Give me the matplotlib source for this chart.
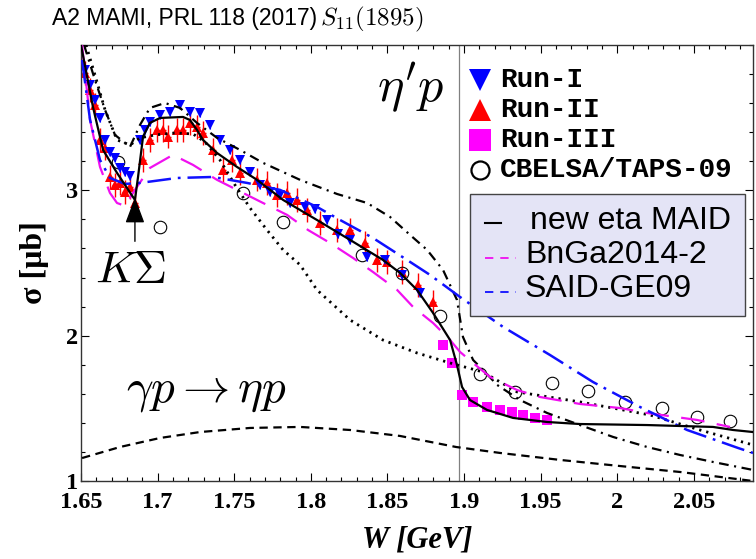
import matplotlib
matplotlib.use('Agg')
import matplotlib.pyplot as plt
from matplotlib.patches import Rectangle
from matplotlib.lines import Line2D
from matplotlib.ticker import MultipleLocator, FixedLocator, FuncFormatter

# ---------------- data (W in GeV, sigma in microbarn) ----------------
# new eta MAID (solid black)
maid_W = [1.650, 1.6578, 1.6644, 1.6735, 1.6852, 1.6872, 1.6905, 1.695, 1.7016, 1.7166,
          1.7211, 1.7257, 1.7296, 1.7388, 1.7518, 1.7649, 1.7819, 1.8040, 1.8256, 1.8471,
          1.8582, 1.8693, 1.8798, 1.8909, 1.8954, 1.8987, 1.9039, 1.9150, 1.9320, 1.9542,
          1.9757, 2.0195, 2.0625, 2.0756, 2.0886]
maid_S = [4.00, 3.574, 3.278, 3.12, 2.934, 3.09, 3.37, 3.464, 3.498, 3.505,
          3.484, 3.416, 3.347, 3.257, 3.161, 3.072, 2.934, 2.796, 2.659, 2.521,
          2.432, 2.315, 2.156, 1.970, 1.798, 1.647, 1.557, 1.489, 1.434, 1.406,
          1.392, 1.385, 1.372, 1.351, 1.337]

# black dashed (lower broad curve)
dash_W = [1.6507, 1.6755, 1.7016, 1.7277, 1.7603, 1.7930, 1.8256, 1.8582, 1.8948, 1.9235,
          1.9627, 2.0018, 2.0410, 2.0886]
dash_S = [1.158, 1.234, 1.296, 1.337, 1.365, 1.372, 1.351, 1.310, 1.234, 1.193,
          1.145, 1.103, 1.062, 1.000]

# black dash-dot
dd_W = [1.652, 1.6591, 1.6657, 1.6722, 1.682, 1.6885, 1.695, 1.7048, 1.7146, 1.7257,
        1.7388, 1.7538, 1.7688, 1.793, 1.8171, 1.8367, 1.8517, 1.8648, 1.8759, 1.8863,
        1.8954, 1.8993, 1.9059, 1.9137, 1.9216, 1.9366, 1.9542, 1.9757, 1.9973, 2.0195,
        2.041, 2.0625, 2.0886]
dd_S = [4.00, 3.760, 3.553, 3.381, 3.299, 3.450, 3.567, 3.601, 3.567, 3.464,
        3.361, 3.278, 3.189, 3.072, 2.975, 2.913, 2.817, 2.693, 2.590, 2.452,
        2.246, 1.991, 1.833, 1.750, 1.661, 1.557, 1.468, 1.385, 1.303, 1.234,
        1.179, 1.131, 1.076]

# black dotted
dot_W = [1.6533, 1.6591, 1.6657, 1.6735, 1.682, 1.6885, 1.6983, 1.7114, 1.7231, 1.7309,
         1.7407, 1.7505, 1.7603, 1.7714, 1.7819, 1.793, 1.804, 1.8256, 1.8471, 1.8693,
         1.8909, 1.9124, 1.9346, 1.9757, 2.0214, 2.054, 2.0886]
dot_S = [4.00, 3.794, 3.553, 3.347, 3.312, 3.361, 3.381, 3.395, 3.388, 3.333,
         3.209, 3.037, 2.879, 2.727, 2.590, 2.487, 2.315, 2.108, 1.970, 1.881,
         1.812, 1.750, 1.613, 1.544, 1.454, 1.351, 1.248]

# BnGa2014-2 (magenta long dash)
bn_W = [1.6507, 1.6559, 1.6624, 1.6689, 1.6735, 1.6787, 1.6852, 1.695, 1.710, 1.7231,
        1.7388, 1.7518, 1.7688, 1.7845, 1.7982, 1.8125, 1.8275, 1.8406, 1.8563, 1.8667,
        1.8798, 1.8909, 1.8974, 1.9059, 1.9170, 1.9346, 1.9496, 1.9757, 2.0018, 2.0195,
        2.0521, 2.0736]
bn_S = [4.00, 3.485, 3.161, 2.982, 2.913, 2.893, 3.003, 3.154, 3.244, 3.175,
        3.072, 3.003, 2.913, 2.831, 2.727, 2.638, 2.535, 2.438, 2.315, 2.198,
        2.087, 1.970, 1.888, 1.812, 1.716, 1.626, 1.578, 1.530, 1.502, 1.468,
        1.420, 1.372]

# SAID-GE09 (blue dash-dot)
said_W = [1.6507, 1.6559, 1.6624, 1.6689, 1.6787, 1.6885, 1.7127, 1.7362, 1.7584, 1.7799,
          1.8040, 1.8191, 1.8406, 1.8628, 1.8778, 1.8974, 1.9255, 1.9561, 1.9842, 2.0149,
          2.0456, 2.0789, 2.0886]
said_S = [3.897, 3.485, 3.209, 3.085, 3.044, 3.051, 3.085, 3.092, 3.051, 3.003,
          2.886, 2.796, 2.672, 2.521, 2.418, 2.266, 2.060, 1.867, 1.681, 1.509,
          1.351, 1.227, 1.193]

# Run-I (blue down triangles)
run1_W = [1.6526, 1.6559, 1.6591, 1.6624, 1.6657, 1.6689, 1.6722, 1.6755, 1.6787, 1.682,
          1.6885, 1.6918, 1.695, 1.7016, 1.7081, 1.7146, 1.7211, 1.7277, 1.7342, 1.7407,
          1.7473, 1.7538, 1.7603, 1.7668, 1.7734, 1.7799, 1.7864, 1.7962, 1.8027, 1.8106,
          1.8178, 1.8256, 1.8367, 1.8484, 1.8595, 1.8713]
run1_S = [3.829, 3.725, 3.622, 3.498, 3.347, 3.264, 3.223, 3.154, 3.127, 3.099,
          3.347, 3.416, 3.471, 3.519, 3.540, 3.588, 3.540, 3.533, 3.450, 3.347,
          3.278, 3.209, 3.127, 3.037, 2.989, 2.968, 2.913, 2.886, 2.872, 2.796,
          2.700, 2.659, 2.542, 2.521, 2.418, 2.294]

# Run-II (red up triangles)
run2_W = [1.6526, 1.6559, 1.6591, 1.6624, 1.6657, 1.6689, 1.6722, 1.6755, 1.6787, 1.682,
          1.6852, 1.6905, 1.695, 1.6996, 1.7035, 1.7068, 1.7127, 1.7166, 1.7211, 1.7257,
          1.7296, 1.7362, 1.7427, 1.7486, 1.7538, 1.7649, 1.7714, 1.7779, 1.7845, 1.791,
          1.7975, 1.806, 1.8171, 1.8256, 1.8354, 1.8432, 1.8497, 1.8595, 1.87, 1.8798]
run2_S = [3.808, 3.691, 3.588, 3.347, 3.292, 3.092, 3.037, 3.051, 2.989, 3.023,
          2.913, 3.209, 3.347, 3.416, 3.416, 3.368, 3.416, 3.416, 3.464, 3.436,
          3.395, 3.278, 3.140, 3.209, 3.120, 3.072, 3.051, 2.968, 2.982, 2.934,
          2.865, 2.776, 2.727, 2.727, 2.638, 2.521, 2.507, 2.438, 2.349, 2.232]

# Run-III (magenta squares)
run3_W = [1.8863, 1.8922, 1.8987, 1.9059, 1.915, 1.9235, 1.9313, 1.9385, 1.9463, 1.9542]
run3_S = [1.936, 1.812, 1.592, 1.544, 1.509, 1.489, 1.475, 1.454, 1.434, 1.420]

# CBELSA/TAPS-09 (open circles)
cb_W = [1.6742, 1.7016, 1.7557, 1.7819, 1.8334, 1.8595, 1.8843, 1.9104, 1.9333, 1.9574,
        1.9809, 2.0051, 2.0292, 2.0521, 2.0736]
cb_S = [3.195, 2.748, 2.982, 2.783, 2.555, 2.432, 2.136, 1.736, 1.613, 1.674,
        1.619, 1.544, 1.502, 1.440, 1.413]

x_ticks = [1.65, 1.70, 1.75, 1.80, 1.85, 1.90, 1.95, 2.00, 2.05]
y_ticks = [1, 2, 3]
W_res = 1.897
W_cusp = 1.6852

# ---------------- figure ----------------
plt.rcParams['mathtext.fontset'] = 'cm'
plt.rcParams['lines.scale_dashes'] = False

FW, FH = 756, 559
fig = plt.figure(figsize=(FW / 100, FH / 100), dpi=100)
fig.patch.set_facecolor('white')


def fx(x):
    return x / FW


def fy(y):
    return 1 - y / FH


ax = fig.add_axes([fx(81), fy(481), (753 - 81) / FW, (481 - 45) / FH])
ax.set_xlim(1.65, 2.0886)
ax.set_ylim(1, 4)

ax.axvline(W_res, color='#808080', lw=0.9, zorder=1)

MAG = '#f010f0'
BLU = '#1010ff'

# data points
ax.errorbar(run2_W, run2_S, yerr=0.08, xerr=0.0022, fmt='^', color='#ff0000', ms=7.5,
            mew=0, elinewidth=1.0, capsize=0, zorder=2)
ax.errorbar(run1_W, run1_S, yerr=0.03, fmt='v', color='#0000ff', ms=7.5, mew=0,
            elinewidth=0.8, capsize=0, zorder=2)
ax.plot(run3_W, run3_S, 's', color='#ff00ff', ms=7, mew=0, zorder=2)
ax.plot(cb_W, cb_S, 'o', mfc='none', mec='black', ms=9, mew=0.8, zorder=2)

# model curves
ax.plot(dash_W, dash_S, color='black', lw=1.6, dashes=(6, 4), zorder=3)
ax.plot(dd_W, dd_S, color='black', lw=1.6, dashes=(7, 4, 1.5, 4), zorder=3)
ax.plot(dot_W, dot_S, color='black', lw=2.0, dashes=(1.6, 3.6), zorder=3)
ax.plot(bn_W, bn_S, color=MAG, lw=1.6, dashes=(17, 9), zorder=3)
ax.plot(said_W, said_S, color=BLU, lw=1.8, dashes=(17, 5, 2, 5), zorder=3)
ax.plot(maid_W, maid_S, color='black', lw=1.6, zorder=4)

# ticks
ax.xaxis.set_major_locator(FixedLocator(x_ticks))
ax.xaxis.set_minor_locator(MultipleLocator(0.01))
ax.yaxis.set_major_locator(FixedLocator(y_ticks))
ax.yaxis.set_minor_locator(MultipleLocator(0.2))
ax.xaxis.set_major_formatter(FuncFormatter(lambda v, p: ('%.2f' % v).rstrip('0').rstrip('.')))
ax.yaxis.set_major_formatter(FuncFormatter(lambda v, p: '%d' % v))
ax.tick_params(which='both', direction='in', top=True, right=True, width=0.8)
ax.tick_params(which='major', length=6)
ax.tick_params(which='minor', length=3)
for lab in ax.get_xticklabels() + ax.get_yticklabels():
    lab.set_fontfamily('Liberation Serif')
    lab.set_fontweight('bold')
    lab.set_fontsize(17.5)
ax.tick_params(axis='x', pad=8)
ax.tick_params(axis='y', pad=2)
for s in ax.spines.values():
    s.set_linewidth(1.0)
    s.set_color('#333333')

ax.set_xlabel('W [GeV]', fontfamily='Liberation Serif', fontweight='bold',
              fontstyle='italic', fontsize=22, labelpad=9)
ax.set_ylabel('σ [μb]', fontfamily='Liberation Serif', fontweight='bold',
              fontsize=23, labelpad=12)

# title
fig.text(fx(52), fy(18), 'A2 MAMI, PRL 118 (2017)',
         family='Liberation Sans', fontsize=16.5, ha='left', va='center')
fig.text(fx(320), fy(19), r'$S_{11}(1895)$', fontsize=18, ha='left', va='center')

# annotations
fig.text(fx(411), fy(88), r"$\eta'p$", fontsize=36, ha='center', va='center')
fig.text(fx(131), fy(270), r'$K\Sigma$', fontsize=33, ha='center', va='center')
fig.text(fx(206), fy(392), r'$\gamma p \rightarrow \eta p$', fontsize=34,
         ha='center', va='center')
ax.annotate('', xy=(W_cusp, 2.97), xytext=(W_cusp, 2.63),
            arrowprops=dict(arrowstyle='-|>,head_length=1.6,head_width=0.6',
                            color='black', lw=1.0), zorder=5)

# legend (markers)
mono = dict(family='Liberation Mono', fontweight='bold', fontsize=20,
            ha='left', va='center')
rows = [('v', '#0000ff', 'Run-I'), ('^', '#ff0000', 'Run-II'),
        ('s', '#ff00ff', 'Run-III')]
ry = [80, 110, 140, 170]
for (m, c, t), y in zip(rows, ry):
    fig.add_artist(Line2D([fx(480)], [fy(y)], marker=m, color=c, ms=16, mew=0,
                          transform=fig.transFigure))
    fig.text(fx(500), fy(y), t, **mono)
fig.add_artist(Line2D([fx(480)], [fy(ry[3])], marker='o', mfc='none', mec='black',
                      ms=13, mew=1.6, transform=fig.transFigure))
fig.text(fx(500), fy(ry[3]), 'CBELSA/TAPS-09', **mono)

# legend box (models)
fig.add_artist(Rectangle((fx(470), fy(316)), (745 - 470) / FW, (316 - 194) / FH,
                         transform=fig.transFigure, facecolor='#e4e4f6',
                         edgecolor='#444444', lw=1.0))
sans = dict(family='Liberation Sans', fontsize=23, ha='left', va='center')
fig.add_artist(Line2D([fx(485), fx(501)], [fy(223), fy(223)], color='black', lw=1.5,
                      transform=fig.transFigure))
fig.text(fx(530), fy(221), 'new eta MAID', **sans)
fig.add_artist(Line2D([fx(485), fx(516)], [fy(258), fy(258)], color=MAG, lw=1.3,
                      dashes=(6, 5), transform=fig.transFigure))
fig.text(fx(525), fy(255), 'BnGa2014-2', **sans)
fig.add_artist(Line2D([fx(485), fx(516)], [fy(292), fy(292)], color=BLU, lw=1.3,
                      dashes=(6, 5), transform=fig.transFigure))
fig.text(fx(525), fy(289), 'SAID-GE09', **sans)

fig.savefig('out.png', dpi=100, facecolor='white')
